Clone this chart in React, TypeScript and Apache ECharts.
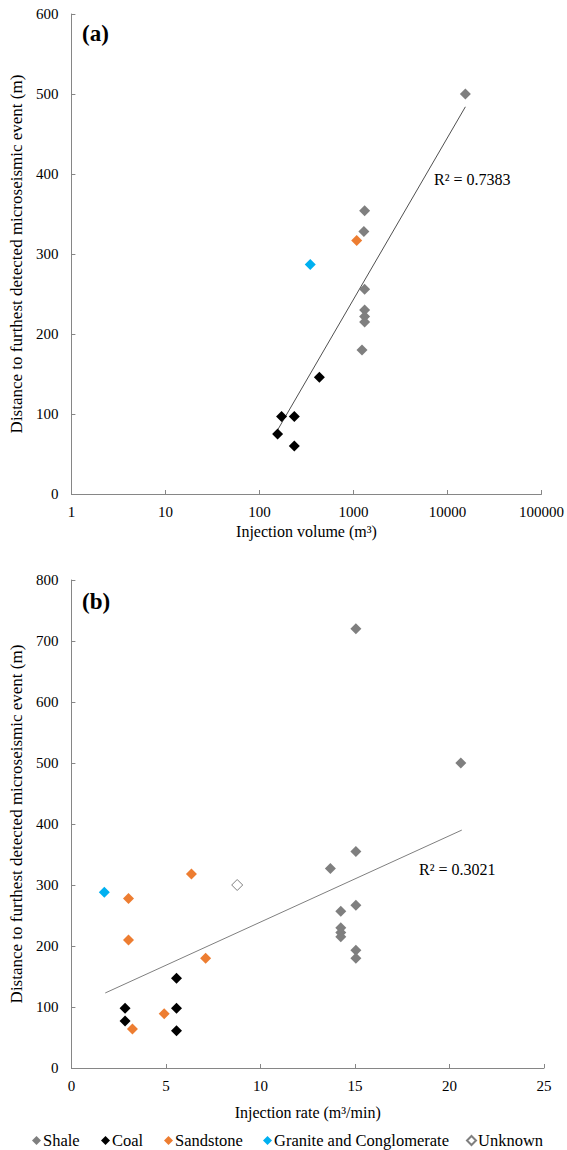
import React, { useEffect, useRef } from "react";
import * as echarts from "echarts";

// ---- Panel (a): injection volume (m³) vs distance (m)
const aShale: [number, number][] = [[15500, 500], [1315, 354], [1290, 328], [1315, 256], [1315, 230], [1315, 222], [1315, 215], [1233, 180]];
const aCoal: [number, number][] = [[434, 146], [172, 97], [235, 97], [156, 75], [235, 60]];
const aSandstone: [number, number][] = [[1083, 317]];
const aGranite: [number, number][] = [[347, 287]];
const aTrend: [number, number][] = [[156, 80], [15500, 484]];
const aXTicks = [1, 10, 100, 1000, 10000, 100000];

// ---- Panel (b): injection rate (m³/min) vs distance (m)
const bShale: [number, number][] = [[15.05, 720], [20.6, 500], [15.05, 355], [13.7, 327], [15.05, 267], [14.25, 257], [14.25, 230], [14.25, 222], [14.25, 215], [15.05, 193], [15.05, 180]];
const bCoal: [number, number][] = [[5.56, 147], [2.84, 98], [5.56, 98], [2.84, 77], [5.56, 61]];
const bSandstone: [number, number][] = [[3.02, 278], [6.35, 318], [3.02, 210], [7.1, 180], [4.91, 89], [3.23, 64]];
const bGranite: [number, number][] = [[1.74, 288]];
const bUnknown: [number, number][] = [[8.77, 300]];
const bTrend: [number, number][] = [[1.79, 123], [20.65, 390]];

const legendNames = ["Shale", "Coal", "Sandstone", "Granite and Conglomerate", "Unknown"];
const r2a = "R² = 0.7383";
const r2b = "R² = 0.3021";
const yTitle = "Distance to furthest detected microseismic event (m)";

const FONT = "Liberation Serif";
const AXIS = "#868686";
const legendLeft = [32, 101, 164, 263, 466];

export default function App() {
  const ref = useRef<HTMLDivElement>(null);
  useEffect(() => {
    const chart = echarts.init(ref.current!, null, { renderer: "svg" });
    const axisCommon = {
      axisLine: { show: true, lineStyle: { color: AXIS, width: 1 } },
      axisTick: { show: true, inside: true, length: 4, lineStyle: { color: AXIS } },
      splitLine: { show: false },
      axisLabel: { color: "#000", fontSize: 15, fontFamily: FONT },
      nameTextStyle: { color: "#000", fontSize: 16, fontFamily: FONT },
    };
    const yCommon = (max: number, idx: number) => ({
      ...axisCommon,
      type: "value",
      gridIndex: idx,
      min: 0,
      max,
      interval: 100,
      axisLabel: { ...axisCommon.axisLabel, margin: 13 },
      name: yTitle,
      nameLocation: "middle",
      nameGap: 42,
      nameTextStyle: { color: "#000", fontSize: 17, fontFamily: FONT },
    });
    const scatter = (name: string, data: [number, number][], idx: number, color: string, hollow = false) => ({
      type: "scatter",
      name,
      xAxisIndex: idx,
      yAxisIndex: idx,
      data,
      symbol: "diamond",
      symbolSize: 11,
      itemStyle: hollow
        ? { color: "#fff", borderColor: "#7f7f7f", borderWidth: 1, opacity: 1 }
        : { color, opacity: 1 },
      z: 3,
    });
    const trend = (data: [number, number][], idx: number, color: string) => ({
      type: "line",
      name: "trend",
      xAxisIndex: idx,
      yAxisIndex: idx,
      data,
      symbol: "none",
      lineStyle: { color, width: 1 },
      z: 2,
    });
    chart.setOption({
      animation: false,
      textStyle: { fontFamily: FONT },
      grid: [
        { left: 69, top: 14, width: 475, height: 480 },
        { left: 69, top: 580, width: 475, height: 488 },
      ],
      xAxis: [
        {
          ...axisCommon,
          type: "log",
          logBase: 10,
          gridIndex: 0,
          min: aXTicks[0],
          max: aXTicks[aXTicks.length - 1],
          axisLabel: { ...axisCommon.axisLabel, margin: 10, formatter: (v: number) => String(Math.round(v)) },
          minorTick: { show: false },
          name: "Injection volume (m³)",
          nameLocation: "middle",
          nameGap: 29,
        },
        {
          ...axisCommon,
          type: "value",
          gridIndex: 1,
          min: 0,
          max: 25,
          interval: 5,
          axisLabel: { ...axisCommon.axisLabel, margin: 10 },
          name: "Injection rate (m³/min)",
          nameLocation: "middle",
          nameGap: 36,
        },
      ],
      yAxis: [yCommon(600, 0), yCommon(800, 1)],
      legend: legendNames.map((n, i) => ({
        data: [n],
        left: legendLeft[i],
        top: 1132,
        padding: 0,
        icon: "diamond",
        itemWidth: 9,
        itemHeight: 9,
        textStyle: { fontSize: 16.5, fontFamily: FONT, color: "#000", padding: [0, 0, 0, -3] },
      })),
      series: [
        scatter("Shale", aShale, 0, "#7f7f7f"),
        scatter("Coal", aCoal, 0, "#000000"),
        scatter("Sandstone", aSandstone, 0, "#ed7d31"),
        scatter("Granite and Conglomerate", aGranite, 0, "#00b0f0"),
        trend(aTrend, 0, "#505050"),
        scatter("Shale", bShale, 1, "#7f7f7f"),
        scatter("Coal", bCoal, 1, "#000000"),
        scatter("Sandstone", bSandstone, 1, "#ed7d31"),
        scatter("Granite and Conglomerate", bGranite, 1, "#00b0f0"),
        scatter("Unknown", bUnknown, 1, "#fff", true),
        trend(bTrend, 1, "#7f7f7f"),
      ],
      graphic: [
        { type: "text", left: 82, top: 22, style: { text: "(a)", fontFamily: FONT, fontSize: 23, fontWeight: "bold", fill: "#000" } },
        { type: "text", left: 82, top: 590, style: { text: "(b)", fontFamily: FONT, fontSize: 23, fontWeight: "bold", fill: "#000" } },
        { type: "text", left: 434, top: 171, style: { text: r2a, fontFamily: FONT, fontSize: 16, fill: "#000" } },
        { type: "text", left: 419, top: 861, style: { text: r2b, fontFamily: FONT, fontSize: 16, fill: "#000" } },
      ],
    });
    return () => chart.dispose();
  }, []);
  return <div ref={ref} style={{ position: "absolute", left: 0, top: 0, width: 567, height: 1150 }} />;
}
